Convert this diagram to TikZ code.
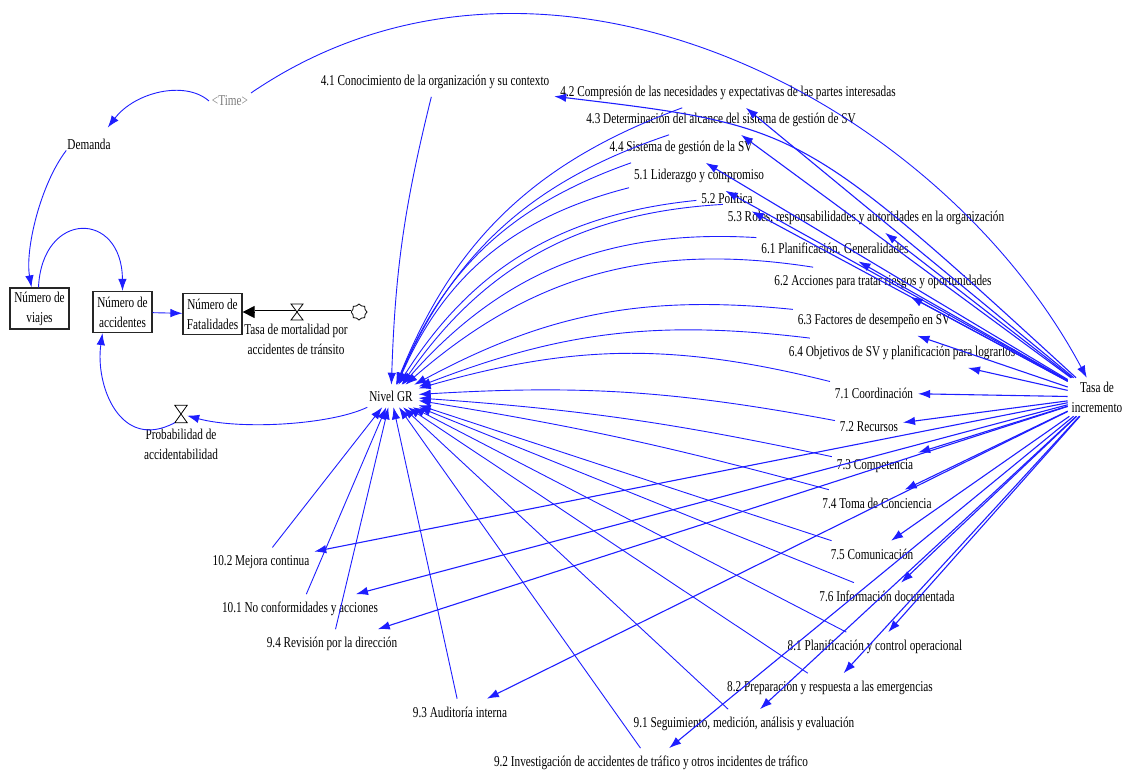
\documentclass[tikz,border=0pt]{standalone}
\usepackage{fontspec}
\setmainfont{Liberation Serif}[FakeStretch=0.75]
\usetikzlibrary{arrows.meta,shapes.symbols,calc}
\definecolor{vblue}{RGB}{30,30,255}
\definecolor{tgray}{RGB}{125,125,125}
\begin{document}
\begin{tikzpicture}[x=1pt,y=1pt,
  every node/.style={font=\fontsize{15}{20}\selectfont, inner sep=1pt},
  item/.style={outer xsep=4pt, outer ysep=7pt},
  stockbox/.style={draw=black!85, line width=1.2pt, minimum width=59pt, minimum height=41pt, align=center, inner sep=0pt},
  cause/.style={draw=vblue, line width=1.1pt, -{Latex[length=12pt,width=8.5pt]}},
  lnk/.style={draw=vblue, line width=0.9pt, -{Latex[length=12pt,width=8.5pt]}},
  valvestyle/.style={draw=black, line width=0.8pt, fill=white},
]
\useasboundingbox (0,0) rectangle (1123,-771);

% ---------------- left model part ----------------
\node[text=tgray, outer sep=2pt] (time) at (230,-101) {\textless Time\textgreater};
\node (dem) at (89,-144) {Demanda};
\node[stockbox] (viaj) at (39.5,-308.5) {Número de\\viajes};
\node[stockbox] (acc) at (122.5,-312) {Número de\\accidentes};
\node[stockbox] (fat) at (212.5,-314) {Número de\\Fatalidades};
\node[cloud, draw, cloud puffs=8, minimum width=16pt, minimum height=16pt, inner sep=0pt, line width=0.8pt] (cl) at (359,-312) {};
\coordinate (vm) at (297,-312);
\node[align=center] (tm) at (296,-339) {Tasa de mortalidad por\\accidentes de tránsito};
\node[minimum width=12pt, minimum height=17pt, inner sep=0pt] (pv) at (181,-414) {};
\node[align=center] (prob) at (181,-444) {Probabilidad de\\accidentabilidad};
\node[outer sep=5pt] (niv) at (391,-396) {Nivel GR};
\node[align=center, outer sep=3pt] (tasa) at (1097,-397) {Tasa de\\incremento};

% flow pipe
\draw[line width=0.8pt, -{Triangle[length=12pt,width=12pt]}] (vm) -- (fat.east |- vm);
\draw[double distance=3pt, line width=0.9pt, shorten >=12pt] (cl.west) -- (fat.east |- cl);
\draw[valvestyle] ($(vm)+(-6,8)$) -- ($(vm)+(6,8)$) -- ($(vm)+(-6,-8)$) -- ($(vm)+(6,-8)$) -- cycle;
\draw[valvestyle] (pv.north west) -- (pv.north east) -- (pv.south west) -- (pv.south east) -- cycle;

% ---------------- ISO items ----------------
\node[item] (a41) at (435,-82) {4.1 Conocimiento de la organización y su contexto};
\node[item] (a42) at (728,-93) {4.2 Compresión de las necesidades y expectativas de las partes interesadas};
\node[item] (a43) at (721,-120) {4.3 Determinación del alcance del sistema de gestión de SV};
\node[item] (a44) at (681,-148) {4.4 Sistema de gestión de la SV};
\node[item] (a51) at (699,-176) {5.1 Liderazgo y compromiso};
\node[item] (a52) at (727,-198) {5.2 Política};
\node[item] (a53) at (866,-218) {5.3 Roles, responsabilidades y autoridades en la organización};
\node[item] (a61) at (835,-248) {6.1 Planificación. Generalidades};
\node[item] (a62) at (883,-282) {6.2 Acciones para tratar riesgos y oportunidades};
\node[item] (a63) at (874,-321) {6.3 Factores de desempeño en SV};
\node[item] (a64) at (902,-353) {6.4 Objetivos de SV y planificación para lograrlos};
\node[item] (a71) at (874,-393) {7.1 Coordinación};
\node[item] (a72) at (869,-427) {7.2 Recursos};
\node[item] (a73) at (875,-466) {7.3 Competencia};
\node[item] (a74) at (877,-503) {7.4 Toma de Conciencia};
\node[item] (a75) at (872,-554) {7.5 Comunicación};
\node[item] (a76) at (887,-596) {7.6 Información documentada};
\node[item] (a81) at (875,-647) {8.1 Planificación y control operacional};
\node[item] (a82) at (830,-688) {8.2 Preparación y respuesta a las emergencias};
\node[item] (a91) at (744,-724) {9.1 Seguimiento, medición, análisis y evaluación};
\node[item] (a92) at (651,-763) {9.2 Investigación de accidentes de tráfico y otros incidentes de tráfico};
\node[item] (a93) at (460,-712) {9.3 Auditoría interna};
\node[item] (a94) at (332,-644) {9.4 Revisión por la dirección};
\node[item] (a101) at (300,-609) {10.1 No conformidades y acciones};
\node[item] (a102) at (261,-562) {10.2 Mejora continua};

% ---------------- connectors, left part ----------------
\draw[lnk] (time.west) .. controls (185,-80) and (135,-92) .. ($(dem.north east)+(-4,10)$);
\draw[lnk] (time.north east) .. controls (541,105) and (937,-97) .. (tasa);
\draw[lnk] (dem.south west) .. controls (40,-185) and (25,-250) .. ($(viaj.north)+(-8,0)$);
\draw[lnk] ($(viaj.north)+(-1,0)$) .. controls (42,-210) and (122,-210) .. (acc.north);
\draw[lnk] (acc) -- (fat);
\draw[lnk] (niv) .. controls (330,-425) and (240,-430) .. (pv);
\draw[lnk] (pv.south west) .. controls (120,-452) and (95,-385) .. ($(acc.south)+(-20,0)$);

% ---------------- Tasa de incremento -> items ----------------
\draw[cause] (tasa) .. controls (801,-126) .. (a41);
\foreach \t in {a42,a43,a44,a51,a52,a53,a61,a62,a63,a64,a71,a72,a73,a74,a75,a76,a81,a82,a91,a92,a93,a94,a101,a102}
  \draw[cause] (tasa) -- (\t);

% ---------------- items -> Nivel GR ----------------
\foreach \t/\b in {a41/6,a42/24,a43/24,a44/24,a51/26,a52/26,a53/26,a61/26,a62/25,a63/17,a64/14,a71/15,a72/7,a73/4,a74/3,a75/0,a76/0,a81/0,a82/0,a91/0,a92/0,a93/0,a94/0,a101/0,a102/0}
  \draw[lnk] (\t) to[bend right=\b] (niv);
\end{tikzpicture}
\end{document}
